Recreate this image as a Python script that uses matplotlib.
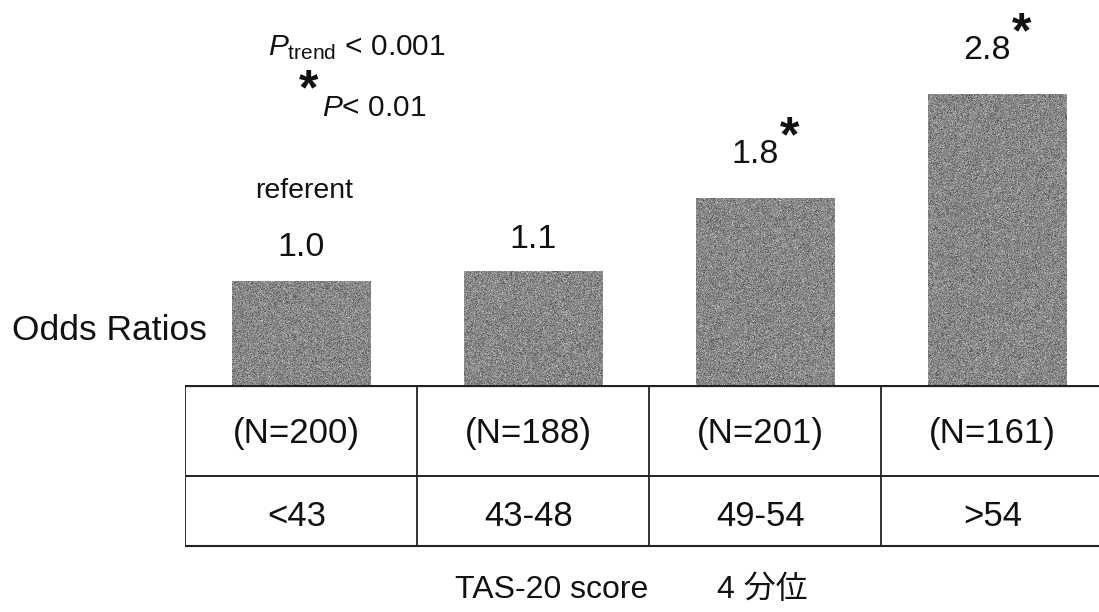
import numpy as np
import matplotlib
matplotlib.use("Agg")
import matplotlib.pyplot as plt

# Data
quartiles = ["<43", "43-48", "49-54", ">54"]
counts = [200, 188, 201, 161]
odds_ratios = [1.0, 1.1, 1.8, 2.8]
significant = [False, False, True, True]

W, H = 1099, 612
plt.rcParams["font.family"] = ["Liberation Sans", "Noto Sans CJK JP"]
plt.rcParams["mathtext.fontset"] = "custom"
plt.rcParams["mathtext.rm"] = "Liberation Sans"
plt.rcParams["mathtext.it"] = "Liberation Sans:italic"

fig = plt.figure(figsize=(W / 100, H / 100), dpi=100)
ink = "#111111"


def fx(x):
    return x / W


def fy(y):
    return 1 - y / H


# Main bar axes: baseline at y=385 px, spans up to the top edge
left_px, right_px = 185, 1099
base_px = 385
col_w = 232.0
px_per_unit = 104.0
xlim = (-0.5, -0.5 + (right_px - left_px) / col_w)
ylim = (0, base_px / px_per_unit)

ax = fig.add_axes([fx(left_px), fy(base_px), (right_px - left_px) / W, base_px / H])
ax.axis("off")

x = np.arange(len(odds_ratios))
bars = ax.bar(x, odds_ratios, width=0.595, color="#878787", edgecolor="none")

# Speckled grey fill for the bars
rng = np.random.default_rng(3)
for b in bars:
    noise = np.clip(rng.normal(0.53, 0.085, size=(320, 140)), 0, 1)
    im = ax.imshow(noise, cmap="gray", vmin=0, vmax=1, aspect="auto",
                   extent=(b.get_x(), b.get_x() + b.get_width(), 0, b.get_height()),
                   interpolation="nearest", zorder=2)
    im.set_clip_path(b)
ax.set_xlim(*xlim)
ax.set_ylim(*ylim)

# Value labels (baseline offset above the bar top, in pixels)
offsets = [25, 23, 35, 35]
for xi, v, sig, off in zip(x, odds_ratios, significant, offsets):
    dx = -10 if sig else 0
    ax.annotate(f"{v:.1f}", (xi, v), xytext=(dx, off), textcoords="offset pixels",
                ha="center", va="baseline", fontsize=24.5, color=ink)
    if sig:
        ax.annotate("*", (xi, v), xytext=(dx + 35, off + 24), textcoords="offset pixels",
                    ha="center", va="center", fontsize=36, fontweight="bold", color=ink)
ax.annotate("referent", (x[0], odds_ratios[0]), xytext=(3, 83), textcoords="offset pixels",
            ha="center", va="baseline", fontsize=20.5, color=ink)

# Table below the bars
tab = fig.add_axes([fx(left_px), fy(550), (right_px - left_px) / W, (550 - base_px) / H])
tab.set_xlim(*xlim)
tab.set_ylim(550, base_px)
tab.axis("off")
lc = "#222222"
for yy, lw in [(base_px + 0.5, 1.6), (476, 1.4), (546, 1.5)]:
    tab.plot([xlim[0], xlim[1]], [yy, yy], color=lc, lw=lw, solid_capstyle="butt")
for xv in [-0.5, 0.5, 1.5, 2.5]:
    tab.plot([xv, xv], [base_px, 546], color=lc, lw=1.3)
for xi, n, q in zip(x, counts, quartiles):
    tab.text(xi - 0.02, 443, f"(N={n})", ha="center", va="baseline", fontsize=25, color=ink)
    tab.text(xi - 0.02, 526, q, ha="center", va="baseline", fontsize=25, color=ink)

# Axis captions and annotations
fig.text(fx(12), fy(340), "Odds Ratios", ha="left", va="baseline", fontsize=25.5, color=ink)
fig.text(fx(455), fy(598), "TAS-20 score", ha="left", va="baseline", fontsize=23, color=ink)
fig.text(fx(717), fy(598), "4 分位", ha="left", va="baseline", fontsize=23, color=ink)
fig.text(fx(268), fy(55), r"$\mathit{P}_{\mathrm{trend}}$ < 0.001", ha="left", va="baseline",
         fontsize=21.5, color=ink)
fig.text(fx(309), fy(91), "*", ha="center", va="center", fontsize=36, fontweight="bold",
         color=ink)
fig.text(fx(322), fy(116), r"$\mathit{P}$< 0.01", ha="left", va="baseline",
         fontsize=21.5, color=ink)

fig.savefig("out.png", dpi=100)
